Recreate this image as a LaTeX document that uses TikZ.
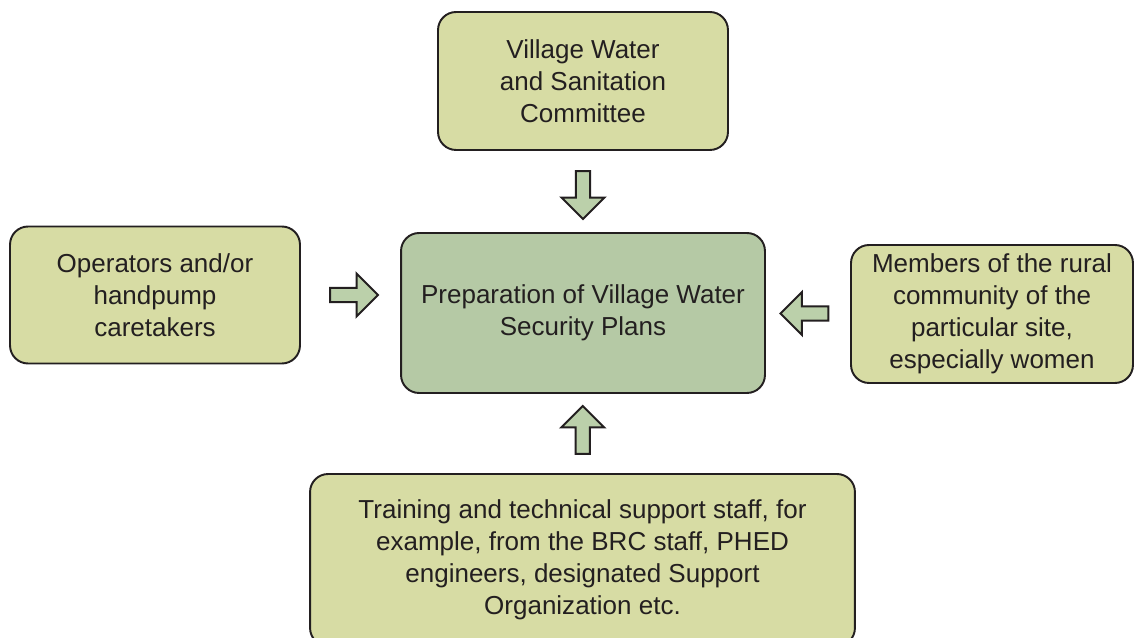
\documentclass[tikz,border=0pt]{standalone}
\usepackage{fontspec}
\setmainfont{Liberation Sans}
\usepackage{tikz}
\usetikzlibrary{calc,shapes.arrows}
\usepackage{xcolor}

\definecolor{boxfill}{RGB}{215,220,164}
\definecolor{planfill}{RGB}{181,201,165}
\definecolor{arrowfill}{RGB}{187,208,170}
\definecolor{inkline}{RGB}{35,31,32}

\tikzset{
  actorbox/.style={draw=inkline, line width=1.1pt, fill=boxfill, rounded corners=0.36cm,
    align=center, text=inkline, font=\fontsize{14.8}{18.2}\selectfont, inner sep=0pt},
  planbox/.style={actorbox, fill=planfill},
  blockarrow/.style={single arrow, draw=inkline, line width=1.1pt, fill=arrowfill,
    minimum height=0.96cm, minimum width=0.86cm, inner sep=0.08cm,
    single arrow head extend=0.2cm}
}

\begin{document}
\begin{tikzpicture}[x=0.02cm, y=-0.02cm]
    \useasboundingbox (0,0) rectangle (1134,638);

    % Cajas
    \node[planbox, minimum width=7.28cm, minimum height=3.2cm] (plan) at (583,313)
        {Preparation of Village Water\\Security Plans};
    \node[actorbox, minimum width=5.8cm, minimum height=2.76cm] (vwsc) at (583,81)
        {Village Water\\and Sanitation\\Committee};
    \node[actorbox, minimum width=5.8cm, minimum height=2.74cm] (operators) at (155,295)
        {Operators and/or\\handpump\\caretakers};
    \node[actorbox, minimum width=5.64cm, minimum height=2.76cm] (community) at (992,314)
        {Members of the rural\\community of the\\particular site,\\especially women};
    \node[actorbox, minimum width=10.9cm, minimum height=3.44cm] (support) at (582.5,560)
        {Training and technical support staff, for\\example, from the BRC staff, PHED\\engineers, designated Support\\Organization etc.};

    % Flechas hacia el plan
    \node[blockarrow, shape border rotate=270] (fromvwsc)
        at ($(vwsc.south)!0.5!(plan.north)$) {};
    \node[blockarrow, shape border rotate=0] (fromoperators)
        at ($(operators.east)!0.5!(operators.east -| plan.west)$) {};
    \node[blockarrow, shape border rotate=180] (fromcommunity)
        at ($(community.west)!0.5!(plan.east)$) {};
    \node[blockarrow, shape border rotate=90] (fromsupport)
        at ($(support.north)!0.5!(plan.south)$) {};
\end{tikzpicture}
\end{document}
